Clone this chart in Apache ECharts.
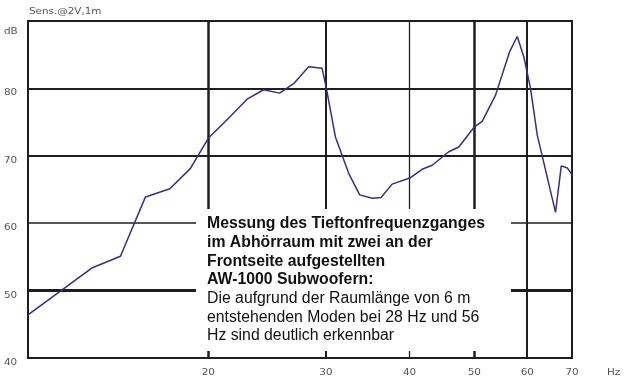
<!DOCTYPE html>
<html>
<head>
<meta charset="utf-8">
<script src="https://cdn.jsdelivr.net/npm/echarts@6/dist/echarts.min.js"></script>
<style>html,body{margin:0;padding:0;background:#fff}#c{width:640px;height:390px}</style>
</head>
<body>
<div id="c"></div>
<script>
// Frequency (Hz) and level (dB)
const freq = [10.75, 13.42, 14.78, 16.11, 17.52, 18.80, 20.0, 21.21, 22.86, 24.20, 25.57, 26.90, 28.26, 29.60, 30.04, 30.99, 32.44, 33.69, 35.17, 36.27, 37.67, 40.13, 41.78, 43.25, 45.79, 47.40, 50.03, 51.38, 53.79, 56.50, 57.96, 59.30, 60.68, 62.10, 66.14, 67.46, 68.87, 70.0];
const level = [46.4, 53.4, 55.1, 63.9, 65.1, 68.1, 72.6, 75.1, 78.4, 79.8, 79.3, 80.8, 83.2, 83.0, 80.0, 72.8, 67.4, 64.2, 63.7, 63.8, 65.8, 66.75, 68.0, 68.6, 70.6, 71.3, 74.3, 75.1, 79.0, 85.5, 87.7, 84.7, 80.0, 73.1, 61.6, 68.5, 68.2, 67.2];
const xTicks = [20, 30, 40, 50, 60, 70];
const xGridWidths = [2.5, 2, 1.3, 2.5, 2, 2];
const yTicks = [40, 50, 60, 70, 80];
const yGridWidths = [2, 3, 1.5, 2, 2];
const yUnit = 'dB';
const xUnit = 'Hz';
const subtitle = 'Sens.@2V,1m';
const noteBold = ['Messung des Tieftonfrequenzganges', 'im Abhörraum mit zwei an der', 'Frontseite aufgestellten', 'AW-1000 Subwoofern:'];
const noteNormal = ['Die aufgrund der Raumlänge von 6 m', 'entstehenden Moden bei 28 Hz und 56', 'Hz sind deutlich erkennbar'];

const chart = echarts.init(document.getElementById('c'), null, {renderer: 'canvas'});
const gridColor = '#1e1e1e';
const markData = [];
xTicks.forEach((v, i) => markData.push({xAxis: v, lineStyle: {width: xGridWidths[i], color: gridColor, type: 'solid'}}));
yTicks.slice(1).forEach((v, i) => markData.push({yAxis: v, lineStyle: {width: yGridWidths[i + 1], color: gridColor, type: 'solid'}}));

chart.setOption({
  animation: false,
  backgroundColor: '#ffffff',
  grid: {left: 28, right: 68, top: 21, bottom: 32, show: true, borderColor: gridColor, borderWidth: 2, backgroundColor: 'transparent'},
  xAxis: {type: 'log', logBase: 10, min: 10.75, max: 70, axisLine: {show: false}, axisTick: {show: false}, axisLabel: {show: false}, splitLine: {show: false}},
  yAxis: {type: 'value', min: 40, max: 90, interval: 10, axisLine: {show: false}, axisTick: {show: false}, axisLabel: {show: false}, splitLine: {show: false}},
  series: [{
    type: 'line',
    data: freq.map((f, i) => [f, level[i]]),
    showSymbol: false,
    symbol: 'none',
    lineStyle: {color: '#3a2c8a', width: 1.5},
    z: 3,
    markLine: {silent: true, symbol: ['none', 'none'], label: {show: false}, data: markData, z: 2}
  }]
});

const small = {font: '8px "DejaVu Sans"', fill: '#555'};
const sx = 1.3;
const graphics = [];
// annotation box
graphics.push({type: 'rect', shape: {x: 196, y: 209, width: 315, height: 142}, style: {fill: '#ffffff'}, z: 100});
const rich = {
  b: {fontFamily: '"Liberation Sans", Arial, sans-serif', fontWeight: 'bold', fontSize: 15.8, lineHeight: 18.7, fill: '#111'},
  n: {fontFamily: '"Liberation Sans", Arial, sans-serif', fontWeight: 'normal', fontSize: 15.8, lineHeight: 18.7, fill: '#111'}
};
const noteText = noteBold.map(t => '{b|' + t + '}').concat(noteNormal.map(t => '{n|' + t + '}')).join('\n');
graphics.push({type: 'text', x: 207, y: 214.5, z: 101, style: {text: noteText, rich: rich, verticalAlign: 'top', align: 'left'}});
// x tick labels
xTicks.forEach(v => {
  const p = chart.convertToPixel({xAxisIndex: 0}, v);
  graphics.push({type: 'text', x: p, y: 373, scaleX: sx, z: 50, style: Object.assign({text: String(v), align: 'center', verticalAlign: 'middle'}, small)});
});
graphics.push({type: 'text', x: 607, y: 373, scaleX: sx, z: 50, style: Object.assign({text: xUnit, align: 'left', verticalAlign: 'middle'}, small)});
// y tick labels
yTicks.forEach(v => {
  const p = chart.convertToPixel({yAxisIndex: 0}, v);
  graphics.push({type: 'text', x: 4, y: p + 5, scaleX: sx, z: 50, style: Object.assign({text: String(v), align: 'left', verticalAlign: 'middle'}, small)});
});
graphics.push({type: 'text', x: 4, y: 32, scaleX: sx, z: 50, style: Object.assign({text: yUnit, align: 'left', verticalAlign: 'middle'}, small)});
graphics.push({type: 'text', x: 29, y: 12, scaleX: sx, z: 50, style: Object.assign({text: subtitle, align: 'left', verticalAlign: 'middle'}, small)});
chart.setOption({graphic: graphics});
</script>
</body>
</html>
